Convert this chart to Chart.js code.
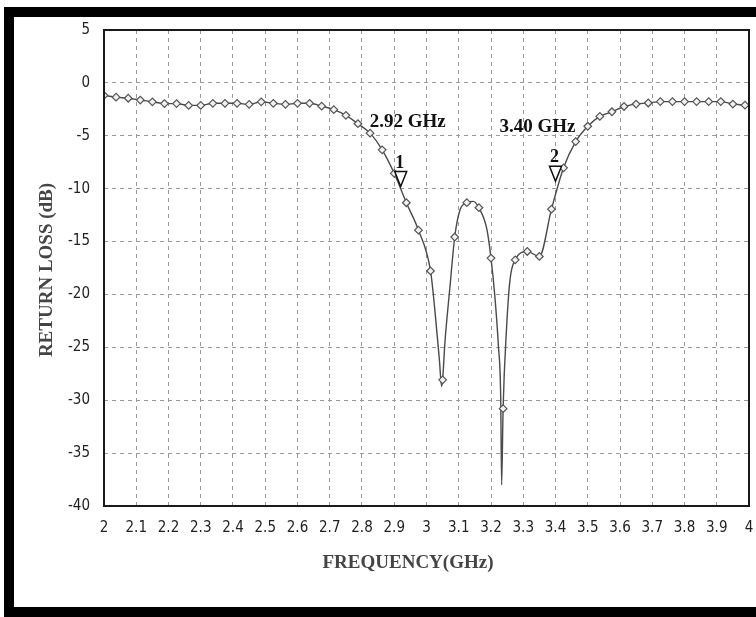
<!DOCTYPE html>
<html><head><meta charset="utf-8">
<script src="https://cdn.jsdelivr.net/npm/chart.js@4.4.1/dist/chart.umd.min.js"></script>
<style>
html,body{margin:0;padding:0;background:#fff;width:756px;height:617px;overflow:hidden}
#frame{position:absolute;left:4px;top:7px;width:800px;height:611px;box-sizing:border-box;border-top:10px solid #000;border-left:10px solid #000;border-bottom:11px solid #000;}
#c{position:absolute;left:0;top:0}
</style></head><body>
<div id="frame"></div>
<canvas id="c" width="756" height="617"></canvas>
<script>
// Marker (diamond) samples
const markerFreq = [2.0,2.0375,2.075,2.1125,2.15,2.1875,2.225,2.2625,2.3,2.3375,2.375,2.4125,2.45,2.4875,2.525,2.5625,2.6,2.6375,2.675,2.7125,2.75,2.7875,2.825,2.8625,2.9,2.9375,2.975,3.0125,3.05,3.0875,3.125,3.1625,3.2,3.2375,3.275,3.3125,3.35,3.3875,3.425,3.4625,3.5,3.5375,3.575,3.6125,3.65,3.6875,3.725,3.7625,3.8,3.8375,3.875,3.9125,3.95,3.9875];
const markerDb = [-1.18,-1.35,-1.45,-1.62,-1.79,-1.96,-1.96,-2.13,-2.13,-1.93,-1.93,-1.93,-2.03,-1.79,-1.93,-2.03,-1.93,-1.93,-2.2,-2.53,-3.07,-3.86,-4.75,-6.33,-8.55,-11.33,-13.92,-17.78,-28.07,-14.57,-11.32,-11.8,-16.56,-30.8,-16.73,-15.94,-16.41,-11.94,-8.03,-5.55,-4.1,-3.17,-2.73,-2.23,-2.0,-1.9,-1.77,-1.77,-1.77,-1.77,-1.77,-1.77,-2.0,-2.1];
// Extra trace points between markers (resonance dips)
const traceFreq = [3.026,3.04,3.047,3.057,3.073,3.104,3.145,3.187,3.212,3.223,3.230,3.233,3.248,3.259,4.0];
const traceDb = [-21.5,-26.2,-28.7,-24.6,-19.2,-12.0,-11.2,-13.8,-20.2,-24.9,-29.6,-38.0,-23.3,-18.6,-2.15];
// Axis ticks
const xTickValues = [2,2.1,2.2,2.3,2.4,2.5,2.6,2.7,2.8,2.9,3,3.1,3.2,3.3,3.4,3.5,3.6,3.7,3.8,3.9,4];
const xTickLabels = ['2','2.1','2.2','2.3','2.4','2.5','2.6','2.7','2.8','2.9','3','3.1','3.2','3.3','3.4','3.5','3.6','3.7','3.8','3.9','4'];
const yTickValues = [5,0,-5,-10,-15,-20,-25,-30,-35,-40];
const yTickLabels = ['5','0','-5','-10','-15','-20','-25','-30','-35','-40'];
// Band-edge flags
const flagFreq = [2.92, 3.40];
const flagDb = [-9.8, -9.3];
const flagNum = ['1', '2'];
const flagText = ['2.92 GHz', '3.40 GHz'];
const xTitle = 'FREQUENCY(GHz)';
const yTitle = 'RETURN LOSS (dB)';

const markerPts = markerFreq.map((f,i)=>({x:f,y:markerDb[i]}));
const tracePts = markerPts.concat(traceFreq.map((f,i)=>({x:f,y:traceDb[i]}))).sort((a,b)=>a.x-b.x);

const tickFont = {family:'"Liberation Sans Narrow","DejaVu Sans Condensed","Liberation Sans",sans-serif', size:15};

const overlay = {
  id:'overlay',
  afterDatasetsDraw(chart){
    const {ctx, chartArea:a, scales:{x,y}} = chart;
    ctx.save();
    ctx.strokeStyle='#1a1a1a'; ctx.lineWidth=2;
    ctx.strokeRect(a.left, a.top, a.right-a.left, a.bottom-a.top);
    const textOff = [[7,60],[-18,49]];
    flagFreq.forEach((f,i)=>{
      const px=x.getPixelForValue(f), py=y.getPixelForValue(flagDb[i]);
      ctx.beginPath(); ctx.moveTo(px,py); ctx.lineTo(px-6,py-15); ctx.lineTo(px+6,py-15); ctx.closePath();
      ctx.fillStyle='#fff'; ctx.fill(); ctx.lineWidth=1.5; ctx.strokeStyle='#111'; ctx.stroke();
      ctx.fillStyle='#111'; ctx.textAlign='center'; ctx.textBaseline='alphabetic';
      ctx.font='bold 18px "Liberation Serif", serif';
      ctx.fillText(flagNum[i], px-1, py-19);
      ctx.font='bold 19px "Liberation Serif", serif';
      ctx.fillText(flagText[i], px+textOff[i][0], py-textOff[i][1]);
    });
    ctx.fillStyle='#444';
    ctx.font='bold 19px "Liberation Serif", serif';
    ctx.textAlign='center'; ctx.textBaseline='middle';
    ctx.fillText(xTitle, 408, 563);
    ctx.translate(47,(a.top+a.bottom)/2+2); ctx.rotate(-Math.PI/2);
    ctx.fillText(yTitle, 0, 0);
    ctx.restore();
  }
};

new Chart(document.getElementById('c'), {
  type:'line',
  data:{datasets:[
    {data:markerPts, showLine:false, pointStyle:'rectRot', pointRadius:3.8, pointBorderWidth:1.2,
     pointBorderColor:'#555', pointBackgroundColor:'#f2f2f2', order:0},
    {data:tracePts, borderColor:'#4a4a4a', borderWidth:1.4, pointRadius:0, cubicInterpolationMode:'monotone', order:1}
  ]},
  options:{
    responsive:false, animation:false, devicePixelRatio:1,
    layout:{padding:{left:0,right:7,top:30,bottom:42}},
    plugins:{legend:{display:false}, tooltip:{enabled:false}},
    scales:{
      x:{type:'linear', min:2, max:4,
        afterBuildTicks:s=>{s.ticks=xTickValues.map(v=>({value:v}));},
        afterFit:s=>{s.height=69; s.paddingLeft=0; s.paddingRight=0;},
        ticks:{autoSkip:false, maxRotation:0, padding:13, color:'#222', font:tickFont,
          callback:(v,i)=>xTickLabels[i]},
        grid:{color:'#9a9a9a', lineWidth:1, drawTicks:false},
        border:{display:false, dash:[4,4]}
      },
      y:{type:'linear', min:-40, max:5,
        afterBuildTicks:s=>{s.ticks=yTickValues.map(v=>({value:v}));},
        afterFit:s=>{s.width=104; s.paddingTop=0; s.paddingBottom=0;},
        ticks:{padding:14, color:'#222', font:tickFont,
          callback:(v,i)=>yTickLabels[i]},
        grid:{color:'#9a9a9a', lineWidth:1, drawTicks:false},
        border:{display:false, dash:[4,4]}
      }
    }
  },
  plugins:[overlay]
});
</script>
</body></html>
